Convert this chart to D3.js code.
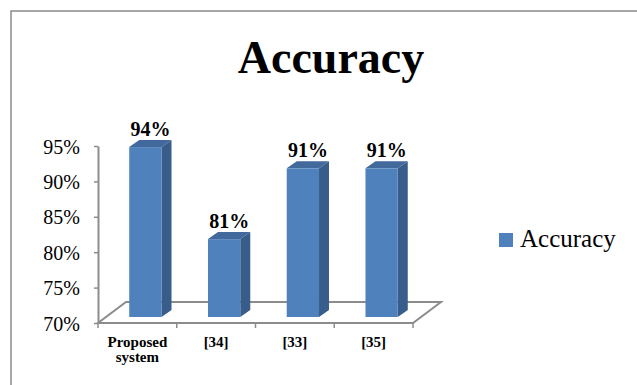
<!DOCTYPE html>
<html>
<head>
<meta charset="utf-8">
<script src="https://cdn.jsdelivr.net/npm/d3@7"></script>
<style>
  body { margin: 0; background: #fff; }
  text { font-family: "Liberation Serif", "Times New Roman", serif; fill: #000; }
</style>
</head>
<body>
<script>
// chart data
var categories = ["Proposed system", "[34]", "[33]", "[35]"]
var values = [94, 81, 91, 91]
var yTicks = [70, 75, 80, 85, 90, 95]
var seriesName = "Accuracy"

var W = 637, H = 385

var svg = d3.select("body").append("svg")
  .attr("width", W)
  .attr("height", H)

// outer frame (runs off the right / bottom edge)
svg.append("rect")
  .attr("x", 11).attr("y", 11)
  .attr("width", W).attr("height", H)
  .attr("fill", "#fff")
  .attr("stroke", "#8a8a8a")
  .attr("stroke-width", 1.5)

svg.append("text")
  .attr("x", 331).attr("y", 73)
  .attr("text-anchor", "middle")
  .style("font-size", "46px")
  .style("font-weight", "bold")
  .text(seriesName)

var x = d3.scaleBand().domain(categories).range([98, 413]).padding(0)
var y = d3.scaleLinear().domain([70, 95]).range([323, 146])

// 3d floor depth and where the bars sit inside it
var floorDx = 28, floorDy = -21
var barDx = 8, barDy = -6
var sideDx = 10, sideDy = -7
var barW = x.bandwidth() * 0.41

var grey = "#8c8c8c"

// floor
var fl = x.range()
svg.append("path")
  .attr("d", "M" + fl[0] + "," + y(70) + "L" + fl[1] + "," + y(70) +
    "L" + (fl[1] + floorDx) + "," + (y(70) + floorDy) +
    "L" + (fl[0] + floorDx) + "," + (y(70) + floorDy) + "Z")
  .attr("fill", "none")
  .attr("stroke", grey)
  .attr("stroke-width", 2)

// y axis
var yAxis = svg.append("g")
  .attr("transform", "translate(" + fl[0] + ",0)")
  .call(d3.axisLeft(y).tickValues(yTicks).tickSize(4).tickSizeOuter(0).tickPadding(14)
    .tickFormat(function(d) { return d + "%" }))
yAxis.select(".domain").attr("stroke", grey).attr("stroke-width", 2)
yAxis.selectAll(".tick line").attr("stroke", grey).attr("stroke-width", 1.5)
yAxis.selectAll(".tick text")
  .style("font-family", '"Liberation Serif", serif')
  .style("font-size", "20px")
  .attr("dy", "0.35em")

// x axis boundary ticks
var bounds = categories.map(function(c) { return x(c) }).concat([fl[1]])
svg.append("g").selectAll("line")
  .data(bounds)
  .enter().append("line")
  .attr("x1", function(d) { return d }).attr("x2", function(d) { return d })
  .attr("y1", y(70)).attr("y2", y(70) + 5)
  .attr("stroke", grey)
  .attr("stroke-width", 1.5)

// x labels
var xl = svg.append("g").selectAll("text")
  .data(categories)
  .enter().append("text")
  .attr("text-anchor", "middle")
  .style("font-size", "15px")
  .style("font-weight", "bold")
xl.each(function(d) {
  var words = d.split(" ")
  var t = d3.select(this)
  words.forEach(function(w, i) {
    t.append("tspan")
      .attr("x", x(d) + x.bandwidth() / 2)
      .attr("y", 347 + i * 15)
      .text(w)
  })
})

// bars
var bars = svg.append("g").selectAll("g")
  .data(categories)
  .enter().append("g")

function front(d) { return x(d) + x.bandwidth() / 2 + barDx - barW / 2 }
function topY(i) { return y(values[i]) + barDy }
var baseY = y(70) + barDy

bars.append("path")
  .attr("d", function(d, i) {
    var x1 = front(d) + barW, t = topY(i)
    return "M" + x1 + "," + t + "L" + (x1 + sideDx) + "," + (t + sideDy) +
      "L" + (x1 + sideDx) + "," + (baseY + sideDy) + "L" + x1 + "," + baseY + "Z"
  })
  .attr("fill", "#385d8a")

bars.append("path")
  .attr("d", function(d, i) {
    var x0 = front(d), x1 = x0 + barW, t = topY(i)
    return "M" + x0 + "," + t + "L" + (x0 + sideDx) + "," + (t + sideDy) +
      "L" + (x1 + sideDx) + "," + (t + sideDy) + "L" + x1 + "," + t + "Z"
  })
  .attr("fill", "#41699c")

bars.append("rect")
  .attr("x", function(d) { return front(d) })
  .attr("y", function(d, i) { return topY(i) })
  .attr("width", barW)
  .attr("height", function(d, i) { return baseY - topY(i) })
  .attr("fill", "#4f81bd")

bars.append("text")
  .attr("x", function(d) { return front(d) + (barW + sideDx) / 2 })
  .attr("y", function(d, i) { return topY(i) - 11 })
  .attr("text-anchor", "middle")
  .style("font-size", "20px")
  .style("font-weight", "bold")
  .text(function(d, i) { return values[i] + "%" })

// legend
var lg = svg.append("g").attr("transform", "translate(499,233)")
lg.append("rect").attr("width", 14).attr("height", 14).attr("fill", "#4f81bd")
lg.append("text")
  .attr("x", 21).attr("y", 14)
  .style("font-size", "25px")
  .text(seriesName)
</script>
</body>
</html>
